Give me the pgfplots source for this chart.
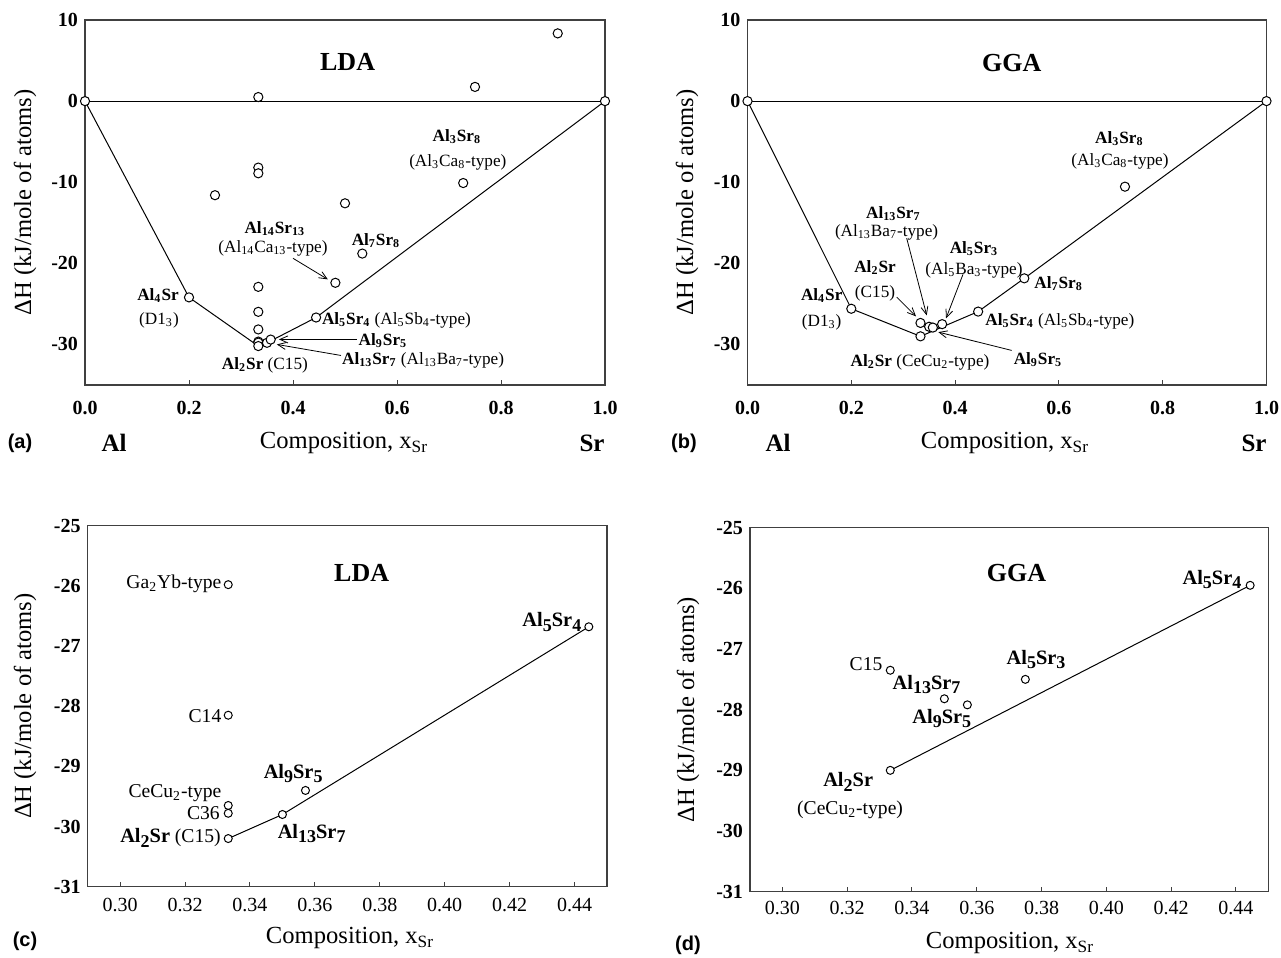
\documentclass[border=0pt]{standalone}
\usepackage{fontspec}
\setmainfont{Liberation Serif}
\newfontfamily\arial{Liberation Sans}
\usepackage{pgfplots}
\pgfplotsset{compat=1.18}
\usetikzlibrary{arrows.meta}

\newcommand\lab{\fontsize{8.6}{10}\selectfont}
\newcommand\labc{\fontsize{9.8}{11}\selectfont}
\newcommand\lo[1]{\raisebox{-0.45ex}{\fontsize{9}{9}\selectfont #1}}
\newcommand\axl{\fontsize{12.3}{14}\selectfont}
\newcommand\blab{\fontsize{10.2}{12}\selectfont\bfseries}

\pgfplotsset{
  panel/.style={scale only axis, clip=false, anchor=south west,
    axis line style={black!75, line width=0.6pt},
    tick align=inside, xtick pos=bottom, ytick pos=left,
    major tick length=2.5pt, ytick style={draw=none},
    tick style={black!75, line width=0.5pt},
    /pgf/number format/assume math mode=true,
    tick label style={font=\fontsize{10}{12}\selectfont\bfseries},
    every node/.append style={inner sep=1pt}},
  pts/.style={only marks, mark=*, mark size=2.3pt, mark options={fill=white, draw=black, line width=0.5pt}},
  hull/.style={no marks, black, line width=0.5pt},
}
\tikzset{arr/.style={line width=0.4pt, -{Straight Barb[length=4pt,width=3.5pt]}}}

\begin{document}
\begin{tikzpicture}[x=1pt,y=1pt]
\path[use as bounding box] (0,0) rectangle (640.5,479);

% ---------------- (a) LDA ----------------
\begin{axis}[panel, at={(42.5pt,286.5pt)}, width=260pt, height=182.5pt,
  xmin=0, xmax=1, ymin=-35, ymax=10,
  xtick={0,0.2,0.4,0.6,0.8,1.0}, ytick={-30,-20,-10,0,10},
  xticklabel style={yshift=-4.5pt,/pgf/number format/.cd,fixed,fixed zerofill,precision=1}]
\addplot[hull] coordinates {(0,0) (1,0)};
\addplot[hull] coordinates {(0,0) (0.2,-24.2) (0.3333,-30.2) (0.35,-29.8) (0.4444,-26.68) (1,0)};
\addplot[pts] coordinates {(0,0) (1,0) (0.2,-24.2) (0.25,-11.6) (0.3333,0.5) (0.3333,-8.2) (0.3333,-8.9)
  (0.3333,-22.9) (0.3333,-25.98) (0.3333,-28.15) (0.3333,-29.65) (0.3333,-29.78) (0.3333,-30.2)
  (0.35,-29.8) (0.3571,-29.4) (0.4444,-26.68) (0.4815,-22.4) (0.5,-12.6) (0.5333,-18.8)
  (0.7273,-10.1) (0.75,1.75) (0.9091,8.35)};
\node[font=\fontsize{13}{15}\selectfont\bfseries] at (axis cs:0.505,4.85) {LDA};
\node[font=\lab\bfseries] at (axis cs:0.715,-4.41) {Al\textsubscript{3}Sr\textsubscript{8}};
\node[font=\lab] at (axis cs:0.717,-7.53) {(Al\textsubscript{3}Ca\textsubscript{8}-type)};
\node[font=\lab\bfseries] at (axis cs:0.5596,-17.16) {Al\textsubscript{7}Sr\textsubscript{8}};
\node[font=\lab\bfseries] at (axis cs:0.365,-15.68) {Al\textsubscript{14}Sr\textsubscript{13}};
\node[font=\lab] at (axis cs:0.3615,-18.15) {(Al\textsubscript{14}Ca\textsubscript{13}-type)};
\draw[arr] (axis cs:0.40,-19.38) -- (axis cs:0.467,-21.98);
\node[font=\lab\bfseries] at (axis cs:0.1404,-23.95) {Al\textsubscript{4}Sr};
\node[font=\lab] at (axis cs:0.1423,-27.04) {(D1\textsubscript{3})};
\node[font=\lab] at (axis cs:0.346,-32.6) {\textbf{Al\textsubscript{2}Sr} (C15)};
\node[font=\lab, anchor=west, inner sep=0pt] at (axis cs:0.455,-27.04) {\textbf{Al\textsubscript{5}Sr\textsubscript{4}} (Al\textsubscript{5}Sb\textsubscript{4}-type)};
\node[font=\lab\bfseries] at (axis cs:0.573,-29.5) {Al\textsubscript{9}Sr\textsubscript{5}};
\draw[arr] (axis cs:0.5225,-29.38) -- (axis cs:0.373,-29.38);
\node[font=\lab, anchor=west, inner sep=0pt] at (axis cs:0.4937,-31.98) {\textbf{Al\textsubscript{13}Sr\textsubscript{7}} (Al\textsubscript{13}Ba\textsubscript{7}-type)};
\draw[arr] (axis cs:0.4923,-31.36) -- (axis cs:0.369,-30.0);
\end{axis}

% ---------------- (b) GGA ----------------
\begin{axis}[panel, at={(373.75pt,286.5pt)}, width=259.5pt, height=182.5pt,
  xmin=0, xmax=1, ymin=-35, ymax=10,
  xtick={0,0.2,0.4,0.6,0.8,1.0}, ytick={-30,-20,-10,0,10},
  xticklabel style={yshift=-4.5pt,/pgf/number format/.cd,fixed,fixed zerofill,precision=1}]
\addplot[hull] coordinates {(0,0) (1,0)};
\addplot[hull] coordinates {(0,0) (0.2,-25.6) (0.3333,-29.0) (0.4444,-25.95) (0.5333,-21.85) (1,0)};
\addplot[pts] coordinates {(0,0) (1,0) (0.2,-25.6) (0.3333,-27.35) (0.3333,-29.0) (0.35,-27.82)
  (0.3571,-27.92) (0.375,-27.5) (0.4444,-25.95) (0.5333,-21.85) (0.7273,-10.55)};
\node[font=\fontsize{13}{15}\selectfont\bfseries] at (axis cs:0.509,4.65) {GGA};
\node[font=\lab\bfseries] at (axis cs:0.7164,-4.57) {Al\textsubscript{3}Sr\textsubscript{8}};
\node[font=\lab] at (axis cs:0.7177,-7.49) {(Al\textsubscript{3}Ca\textsubscript{8}-type)};
\node[font=\lab\bfseries, anchor=west, inner sep=0pt] at (axis cs:0.552,-22.5) {Al\textsubscript{7}Sr\textsubscript{8}};
\node[font=\lab, anchor=west, inner sep=0pt] at (axis cs:0.4576,-27.12) {\textbf{Al\textsubscript{5}Sr\textsubscript{4}} (Al\textsubscript{5}Sb\textsubscript{4}-type)};
\node[font=\lab\bfseries] at (axis cs:0.5597,-31.85) {Al\textsubscript{9}Sr\textsubscript{5}};
\draw[arr] (axis cs:0.509,-30.74) -- (axis cs:0.3676,-28.48);
\node[font=\lab\bfseries, inner sep=0pt] at (axis cs:0.281,-13.9) {Al\textsubscript{13}Sr\textsubscript{7}};
\node[font=\lab, inner sep=0pt] at (axis cs:0.268,-16.14) {(Al\textsubscript{13}Ba\textsubscript{7}-type)};
\draw[arr] (axis cs:0.3067,-16.9) -- (axis cs:0.3453,-26.42);
\node[font=\lab\bfseries] at (axis cs:0.4364,-18.15) {Al\textsubscript{5}Sr\textsubscript{3}};
\node[font=\lab] at (axis cs:0.4364,-20.86) {(Al\textsubscript{5}Ba\textsubscript{3}-type)};
\draw[arr] (axis cs:0.4152,-21.36) -- (axis cs:0.3825,-26.79);
\node[font=\lab\bfseries] at (axis cs:0.2457,-20.46) {Al\textsubscript{2}Sr};
\node[font=\lab] at (axis cs:0.2457,-23.74) {(C15)};
\draw[arr] (axis cs:0.2875,-24.16) -- (axis cs:0.3247,-26.54);
\node[font=\lab\bfseries] at (axis cs:0.143,-23.95) {Al\textsubscript{4}Sr};
\node[font=\lab] at (axis cs:0.143,-27.25) {(D1\textsubscript{3})};
\node[font=\lab] at (axis cs:0.3324,-32.19) {\textbf{Al\textsubscript{2}Sr} (CeCu\textsubscript{2}-type)};
\end{axis}

% ---------------- (c) LDA zoom ----------------
\begin{axis}[panel, at={(43.85pt,35.65pt)}, width=259.65pt, height=180.5pt,
  xmin=0.29, xmax=0.45, ymin=-31, ymax=-25,
  xtick={0.30,0.32,0.34,0.36,0.38,0.40,0.42,0.44}, ytick={-31,-30,-29,-28,-27,-26,-25},
  xticklabel style={yshift=-2pt,font=\fontsize{10}{12}\selectfont,/pgf/number format/.cd,fixed,fixed zerofill,precision=2}]
\addplot[hull] coordinates {(0.3333,-30.2) (0.35,-29.8) (0.4444,-26.68)};
\addplot[pts, mark size=2pt] coordinates {(0.3333,-25.98) (0.3333,-28.15) (0.3333,-29.65) (0.3333,-29.78)
  (0.3333,-30.2) (0.35,-29.8) (0.3571,-29.4) (0.4444,-26.68)};
\node[font=\fontsize{13}{15}\selectfont\bfseries] at (axis cs:0.3744,-25.79) {LDA};
\node[font=\labc, anchor=east, inner sep=0pt] at (axis cs:0.3313,-25.97) {Ga\textsubscript{2}Yb-type};
\node[font=\labc, anchor=east, inner sep=0pt] at (axis cs:0.3313,-28.16) {C14};
\node[font=\labc, anchor=east, inner sep=0pt] at (axis cs:0.3313,-29.45) {CeCu\textsubscript{2}-type};
\node[font=\labc, anchor=east, inner sep=0pt] at (axis cs:0.3308,-29.78) {C36};
\node[font=\labc, anchor=east, inner sep=0pt] at (axis cs:0.3311,-30.19) {{\blab Al\lo{2}Sr} (C15)};
\node[font=\blab] at (axis cs:0.3533,-29.115) {Al\lo{9}Sr\lo{5}};
\node[font=\blab] at (axis cs:0.359,-30.11) {Al\lo{13}Sr\lo{7}};
\node[font=\blab, anchor=east, inner sep=0pt] at (axis cs:0.4422,-26.6) {Al\lo{5}Sr\lo{4}};
\end{axis}

% ---------------- (d) GGA zoom ----------------
\begin{axis}[panel, at={(375pt,33.15pt)}, width=259.15pt, height=182pt,
  xmin=0.29, xmax=0.45, ymin=-31, ymax=-25,
  xtick={0.30,0.32,0.34,0.36,0.38,0.40,0.42,0.44}, ytick={-31,-30,-29,-28,-27,-26,-25},
  xticklabel style={yshift=-1pt,font=\fontsize{10}{12}\selectfont,/pgf/number format/.cd,fixed,fixed zerofill,precision=2}]
\addplot[hull] coordinates {(0.3333,-29.0) (0.4444,-25.95)};
\addplot[pts, mark size=2pt] coordinates {(0.3333,-27.35) (0.35,-27.82) (0.3571,-27.92) (0.3333,-29.0)
  (0.375,-27.5) (0.4444,-25.95)};
\node[font=\fontsize{13}{15}\selectfont\bfseries] at (axis cs:0.3723,-25.75) {GGA};
\node[font=\blab, anchor=east, inner sep=0pt] at (axis cs:0.4418,-25.86) {Al\lo{5}Sr\lo{4}};
\node[font=\blab] at (axis cs:0.3783,-27.17) {Al\lo{5}Sr\lo{3}};
\node[font=\labc, anchor=east, inner sep=0pt] at (axis cs:0.331,-27.25) {C15};
\node[font=\blab] at (axis cs:0.3445,-27.59) {Al\lo{13}Sr\lo{7}};
\node[font=\blab] at (axis cs:0.3492,-28.14) {Al\lo{9}Sr\lo{5}};
\node[font=\blab] at (axis cs:0.3203,-29.19) {Al\lo{2}Sr};
\node[font=\labc] at (axis cs:0.3209,-29.65) {(CeCu\textsubscript{2}-type)};
\end{axis}

% ---------------- outer labels ----------------
\node[rotate=90, font=\axl] at (12.5,377.75) {ΔH (kJ/mole of atoms)};
\node[rotate=90, font=\axl] at (343.5,377.75) {ΔH (kJ/mole of atoms)};
\node[rotate=90, font=\axl] at (12.5,125.9) {ΔH (kJ/mole of atoms)};
\node[rotate=90, font=\axl] at (344,124.15) {ΔH (kJ/mole of atoms)};

\node[font=\arial\bfseries\fontsize{10}{12}\selectfont] at (10,257.5) {(a)};
\node[font=\fontsize{12.5}{14}\selectfont\bfseries] at (57,257.5) {Al};
\node[font=\axl] at (172,257.5) {Composition, x\textsubscript{Sr}};
\node[font=\fontsize{12.5}{14}\selectfont\bfseries] at (296,257.5) {Sr};

\node[font=\arial\bfseries\fontsize{10}{12}\selectfont] at (342,257.5) {(b)};
\node[font=\fontsize{12.5}{14}\selectfont\bfseries] at (389,257.5) {Al};
\node[font=\axl] at (502.5,257.5) {Composition, x\textsubscript{Sr}};
\node[font=\fontsize{12.5}{14}\selectfont\bfseries] at (627,257.5) {Sr};

\node[font=\arial\bfseries\fontsize{10}{12}\selectfont] at (12.5,8.5) {(c)};
\node[font=\axl] at (175,10) {Composition, x\textsubscript{Sr}};
\node[font=\arial\bfseries\fontsize{10}{12}\selectfont] at (344,6.5) {(d)};
\node[font=\axl] at (505,7.5) {Composition, x\textsubscript{Sr}};
\end{tikzpicture}
\end{document}
